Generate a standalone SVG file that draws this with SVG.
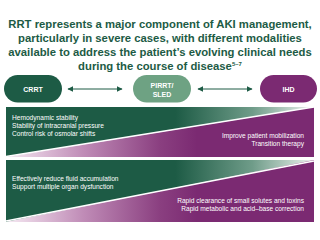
<svg xmlns="http://www.w3.org/2000/svg" width="320" height="240" viewBox="0 0 320 240">
<defs>
<style>
.title{font-family:"Liberation Sans",Arial,sans-serif;font-weight:bold;font-size:11.3px;fill:#1d5b45;text-anchor:middle}
.pill{font-family:"Liberation Sans",Arial,sans-serif;font-weight:bold;font-size:7px;fill:#ffffff;text-anchor:middle}
.body{font-family:"Liberation Sans",Arial,sans-serif;font-size:6.6px;fill:#ffffff}
.r{text-anchor:end}
.conn{stroke:#1d5b45;stroke-width:1;fill:none}
</style>
<marker id="ah" viewBox="0 0 10 10" refX="9" refY="5" markerWidth="6" markerHeight="6" orient="auto-start-reverse" markerUnits="userSpaceOnUse">
<path d="M0,0 L10,5 L0,10 z" fill="#1d5b45"/>
</marker>
<linearGradient id="gGreen" gradientUnits="userSpaceOnUse" x1="6" y1="0" x2="314" y2="0">
<stop offset="0" stop-color="#1d5b45"/>
<stop offset="0.55" stop-color="#1d5b45"/>
<stop offset="0.8" stop-color="#6f9c89"/>
<stop offset="1" stop-color="#eef3ef"/>
</linearGradient>
<linearGradient id="gPurple" gradientUnits="userSpaceOnUse" x1="6" y1="0" x2="314" y2="0">
<stop offset="0" stop-color="#f6eaf3"/>
<stop offset="0.25" stop-color="#c08cb7"/>
<stop offset="0.5" stop-color="#8a3f80"/>
<stop offset="0.62" stop-color="#7b2a72"/>
<stop offset="1" stop-color="#7b2a72"/>
</linearGradient>
</defs>
<rect width="320" height="240" fill="#ffffff"/>

<g id="title">
<text class="title" x="160" y="27.5">RRT represents a major component of AKI management,</text>
<text class="title" x="160" y="41.5">particularly in severe cases, with different modalities</text>
<text class="title" x="160" y="55.5">available to address the patient’s evolving clinical needs</text>
<text class="title" x="160" y="69.5">during the course of disease<tspan font-size="6" dy="-4">5–7</tspan></text>
</g>

<g id="connectors">
<line class="conn" x1="68" y1="89" x2="122" y2="89" marker-start="url(#ah)" marker-end="url(#ah)"/>
<line class="conn" x1="198" y1="89" x2="252" y2="89" marker-start="url(#ah)" marker-end="url(#ah)"/>
</g>

<g id="crrt">
<rect x="4" y="75" width="58" height="27.5" rx="13.75" fill="#1d5b45"/>
<text class="pill" x="33" y="91.5">CRRT</text>
</g>
<g id="pirrt-sled">
<rect x="133" y="75" width="58" height="27.5" rx="13.75" fill="#6ea283"/>
<text class="pill" x="162" y="87.5">PIRRT/</text>
<text class="pill" x="162" y="97">SLED</text>
</g>
<g id="ihd">
<rect x="260" y="75" width="57" height="27.5" rx="13.75" fill="#7b2a72"/>
<text class="pill" x="288.5" y="91.5">IHD</text>
</g>

<g id="panel1">
<polygon points="6,107 314,107 6,157" fill="url(#gGreen)"/>
<polygon points="6,157 314,107 314,157" fill="url(#gPurple)"/>
<line x1="6" y1="156.5" x2="314" y2="107" stroke="#ffffff" stroke-width="1.3"/>
<text class="body" x="12" y="119.5">Hemodynamic stability</text>
<text class="body" x="12" y="127.5">Stability of intracranial pressure</text>
<text class="body" x="12" y="135.5">Control risk of osmolar shifts</text>
<text class="body r" x="304" y="138">Improve patient mobilization</text>
<text class="body r" x="304" y="146">Transition therapy</text>
</g>

<g id="panel2">
<polygon points="6,160 314,160 6,222" fill="url(#gGreen)"/>
<polygon points="6,222 314,160 314,222" fill="url(#gPurple)"/>
<line x1="6" y1="221" x2="314" y2="161" stroke="#ffffff" stroke-width="1.3"/>
<text class="body" x="12" y="181">Effectively reduce fluid accumulation</text>
<text class="body" x="12" y="189">Support multiple organ dysfunction</text>
<text class="body r" x="304" y="203">Rapid clearance of small solutes and toxins</text>
<text class="body r" x="304" y="211">Rapid metabolic and acid–base correction</text>
</g>
</svg>
